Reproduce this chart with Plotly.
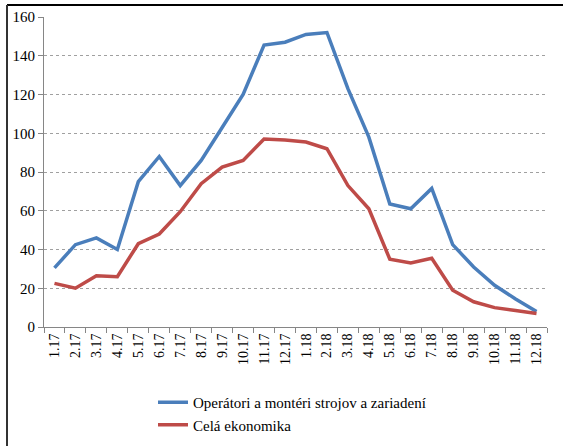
import plotly.graph_objects as go

categories = ["1.17", "2.17", "3.17", "4.17", "5.17", "6.17", "7.17", "8.17", "9.17", "10.17", "11.17", "12.17",
              "1.18", "2.18", "3.18", "4.18", "5.18", "6.18", "7.18", "8.18", "9.18", "10.18", "11.18", "12.18"]
operatori = [30.5, 42.5, 46, 40, 75, 88, 73, 86, 103, 120, 145.5, 147, 151, 152, 123, 98, 63.5, 61, 71.5, 42.5, 31, 21.5, 14.5, 8]
cela = [22.5, 20, 26.5, 26, 43, 48, 59.5, 74, 82.5, 86, 97, 96.5, 95.5, 92, 73, 61, 35, 33, 35.5, 19, 13, 10, 8.5, 7]
series_names = ["Operátori a montéri strojov a zariadení", "Celá ekonomika"]
y_ticks = [0, 20, 40, 60, 80, 100, 120, 140, 160]

fig = go.Figure()
fig.add_trace(go.Scatter(x=categories, y=operatori, mode="lines", name=series_names[0],
                         line=dict(color="#4A7EBB", width=3.5)))
fig.add_trace(go.Scatter(x=categories, y=cela, mode="lines", name=series_names[1],
                         line=dict(color="#BE4B48", width=3.5)))

ff = "Liberation Serif, Times New Roman, serif"
fig.update_layout(
    width=563, height=446,
    margin=dict(l=44, r=16, t=17, b=119, autoexpand=False),
    paper_bgcolor="white", plot_bgcolor="white",
    font=dict(family=ff, color="#000000", size=14),
    showlegend=True,
    legend=dict(x=(153 - 44) / 503, y=(327 - 386) / 310, xanchor="left", yanchor="top",
                orientation="v", font=dict(size=15, family=ff),
                bgcolor="rgba(0,0,0,0)", tracegroupgap=0, itemwidth=30),
    xaxis=dict(type="category", showgrid=False, showline=True, linecolor="#868686", linewidth=1,
               ticks="outside", ticklen=5, tickcolor="#868686", tickson="boundaries",
               tickangle=-90, tickfont=dict(size=14, family=ff),
               range=[-0.5, len(categories) - 0.5]),
    yaxis=dict(range=[0, 160], tickvals=y_ticks, showgrid=True, gridcolor="#A0A0A0", griddash="dot",
               gridwidth=1, showline=True, linecolor="#868686", linewidth=1, ticks="outside",
               ticklen=5, tickcolor="#868686", tickfont=dict(size=15, family=ff),
               zeroline=False),
)

# outer frame (top and left edges visible)
fig.add_shape(type="line", xref="paper", yref="paper", x0=(7 - 44) / 503, x1=(563 - 44) / 503,
              y0=(327 - 5) / 310, y1=(327 - 5) / 310, line=dict(color="#000000", width=2))
fig.add_shape(type="line", xref="paper", yref="paper", x0=(7 - 44) / 503, x1=(7 - 44) / 503,
              y0=(327 - 5) / 310, y1=(327 - 446) / 310, line=dict(color="#333333", width=2))

fig.write_html("out.html", config={"displayModeBar": False},
               post_script="document.body.style.margin='0';document.body.style.overflow='hidden';")
